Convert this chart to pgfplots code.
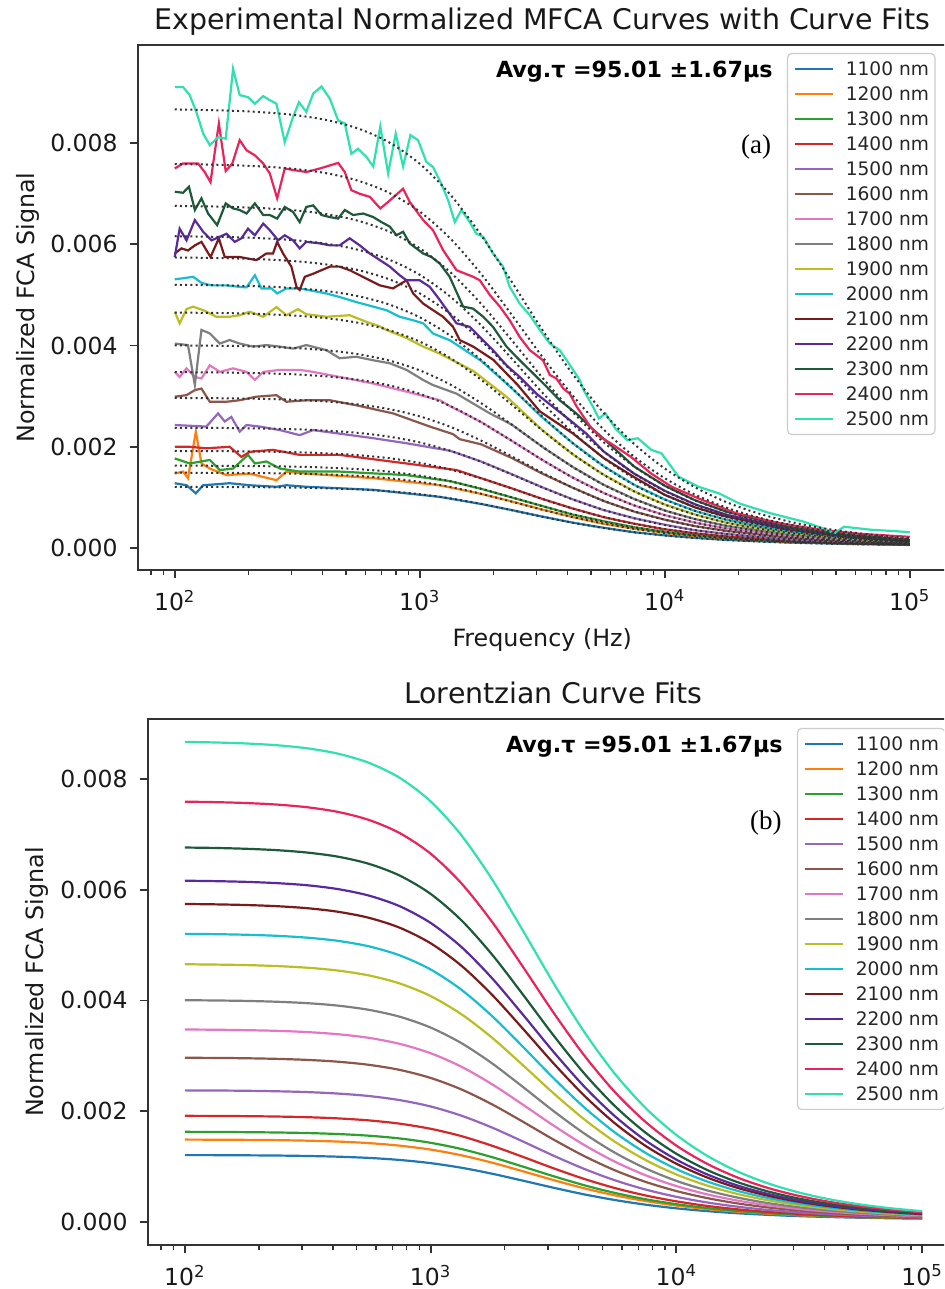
\documentclass[border=0pt]{standalone}
\usepackage{fontspec}
\setmainfont{DejaVu Sans}
\newfontfamily\timesfont{Liberation Serif}
\usepackage{pgfplots}
\usepackage{pgfplotstable}
\pgfplotsset{compat=1.18}

\definecolor{c1100}{HTML}{1F77B4}
\definecolor{c1200}{HTML}{FF7F0E}
\definecolor{c1300}{HTML}{2CA02C}
\definecolor{c1400}{HTML}{D62728}
\definecolor{c1500}{HTML}{9467BD}
\definecolor{c1600}{HTML}{8C564B}
\definecolor{c1700}{HTML}{E377C2}
\definecolor{c1800}{HTML}{7F7F7F}
\definecolor{c1900}{HTML}{BCBD22}
\definecolor{c2000}{HTML}{17BECF}
\definecolor{c2100}{HTML}{7A1A1A}
\definecolor{c2200}{HTML}{5A2A9C}
\definecolor{c2300}{HTML}{1D5A3A}
\definecolor{c2400}{HTML}{E8245A}
\definecolor{c2500}{HTML}{30E0B0}

% Lorentzian fit curves, x = log10(frequency / Hz)
\pgfplotstableread{
x     f1100    f1200    f1300    f1400    f1500    f1600    f1700    f1800    f1900    f2000    f2100    f2200    f2300    f2400    f2500
2.000 0.001208 0.001488 0.001628 0.001917 0.002376 0.002965 0.003475 0.004004 0.004653 0.005202 0.005741 0.006161 0.006760 0.007588 0.008667
2.125 0.001207 0.001486 0.001626 0.001915 0.002374 0.002962 0.003471 0.003999 0.004647 0.005196 0.005734 0.006153 0.006752 0.007579 0.008656
2.250 0.001204 0.001483 0.001622 0.001911 0.002369 0.002956 0.003463 0.003991 0.004638 0.005185 0.005722 0.006140 0.006737 0.007563 0.008638
2.375 0.001200 0.001478 0.001616 0.001904 0.002360 0.002945 0.003451 0.003976 0.004620 0.005166 0.005701 0.006117 0.006712 0.007535 0.008606
2.500 0.001192 0.001468 0.001606 0.001892 0.002345 0.002926 0.003428 0.003950 0.004590 0.005132 0.005664 0.006078 0.006668 0.007486 0.008550
2.625 0.001179 0.001452 0.001588 0.001870 0.002318 0.002893 0.003389 0.003905 0.004538 0.005074 0.005599 0.006008 0.006593 0.007401 0.008452
2.750 0.001157 0.001424 0.001558 0.001834 0.002274 0.002837 0.003324 0.003829 0.004450 0.004975 0.005490 0.005891 0.006464 0.007256 0.008287
2.875 0.001120 0.001378 0.001508 0.001775 0.002200 0.002745 0.003215 0.003705 0.004305 0.004812 0.005311 0.005699 0.006252 0.007019 0.008016
3.000 0.001063 0.001308 0.001430 0.001683 0.002086 0.002601 0.003047 0.003510 0.004079 0.004559 0.005032 0.005399 0.005923 0.006649 0.007593
3.125 0.000980 0.001205 0.001318 0.001551 0.001920 0.002394 0.002804 0.003230 0.003752 0.004194 0.004628 0.004966 0.005448 0.006115 0.006982
3.250 0.000872 0.001072 0.001171 0.001377 0.001705 0.002124 0.002487 0.002864 0.003327 0.003718 0.004102 0.004401 0.004828 0.005418 0.006186
3.375 0.000747 0.000917 0.001001 0.001177 0.001455 0.001812 0.002120 0.002440 0.002833 0.003166 0.003492 0.003746 0.004109 0.004611 0.005264
3.500 0.000619 0.000757 0.000827 0.000970 0.001198 0.001489 0.001742 0.002004 0.002325 0.002598 0.002865 0.003072 0.003369 0.003780 0.004314
3.625 0.000499 0.000609 0.000664 0.000778 0.000959 0.001190 0.001390 0.001599 0.001854 0.002070 0.002282 0.002446 0.002682 0.003008 0.003432
3.750 0.000397 0.000482 0.000525 0.000613 0.000753 0.000933 0.001089 0.001250 0.001448 0.001616 0.001781 0.001909 0.002092 0.002345 0.002674
3.875 0.000313 0.000378 0.000411 0.000479 0.000586 0.000724 0.000843 0.000967 0.001118 0.001247 0.001373 0.001471 0.001611 0.001805 0.002057
4.000 0.000247 0.000297 0.000322 0.000373 0.000455 0.000559 0.000649 0.000743 0.000858 0.000956 0.001052 0.001126 0.001232 0.001379 0.001571
4.125 0.000197 0.000234 0.000253 0.000291 0.000353 0.000432 0.000500 0.000571 0.000658 0.000732 0.000804 0.000860 0.000940 0.001051 0.001196
4.250 0.000158 0.000186 0.000200 0.000229 0.000276 0.000335 0.000386 0.000440 0.000505 0.000561 0.000615 0.000657 0.000718 0.000801 0.000910
4.375 0.000129 0.000150 0.000160 0.000182 0.000217 0.000262 0.000300 0.000340 0.000390 0.000431 0.000472 0.000504 0.000549 0.000612 0.000694
4.500 0.000106 0.000122 0.000130 0.000147 0.000173 0.000207 0.000235 0.000266 0.000303 0.000334 0.000365 0.000388 0.000422 0.000470 0.000531
4.625 0.000090 0.000102 0.000108 0.000120 0.000140 0.000165 0.000187 0.000209 0.000237 0.000260 0.000284 0.000301 0.000327 0.000362 0.000408
4.750 0.000077 0.000086 0.000091 0.000100 0.000115 0.000134 0.000150 0.000167 0.000188 0.000205 0.000223 0.000236 0.000255 0.000282 0.000316
4.875 0.000068 0.000075 0.000078 0.000085 0.000096 0.000110 0.000123 0.000135 0.000151 0.000164 0.000177 0.000187 0.000202 0.000221 0.000247
5.000 0.000061 0.000066 0.000069 0.000074 0.000082 0.000093 0.000102 0.000111 0.000123 0.000133 0.000143 0.000150 0.000161 0.000176 0.000196
}\fits

\pgfplotsset{
  mfca/.style={
    scale only axis,
    xmin=1.85, xmax=5.15,
    scaled y ticks=false,
    axis line style={black!80, line width=0.9pt},
    tick align=outside,
    xtick pos=bottom, ytick pos=left,
    xtick={2,3,4,5},
    xticklabels={10\textsuperscript{2},10\textsuperscript{3},10\textsuperscript{4},10\textsuperscript{5}},
    minor xtick={1.903,1.954,2.301,2.477,2.602,2.699,2.778,2.845,2.903,2.954,3.301,3.477,3.602,3.699,3.778,3.845,3.903,3.954,4.301,4.477,4.602,4.699,4.778,4.845,4.903,4.954},
    ytick={0,0.002,0.004,0.006,0.008},
    yticklabels={0.000,0.002,0.004,0.006,0.008},
    major tick length=4.1pt, minor tick length=2.35pt,
    every tick/.style={black!80, line width=0.9pt},
    minor tick style={line width=0.7pt},
    tick label style={font=\fontsize{11.75}{14}\selectfont, text=black!90},
    label style={font=\fontsize{11.9}{14}\selectfont, text=black!90},
    title style={font=\fontsize{14.2}{17}\selectfont, anchor=center, text=black!90},
    xlabel style={anchor=center},
    ylabel style={anchor=center},
    yticklabel style={anchor=east, inner sep=0pt, xshift=-5.9pt},
    xticklabel style={anchor=north, inner sep=0pt, yshift=-5.6pt},
    legend cell align=left,
    legend image code/.code={\draw[#1, line width=1.1pt, solid] (0pt,0pt) -- (19pt,0pt);},
    legend style={anchor=north west, draw=black!20, line width=0.6pt, rounded corners=2pt, fill=white,
      font=\fontsize{9.3}{11}\selectfont, inner xsep=3pt, inner ysep=2.8pt, row sep=2.68pt, column sep=6pt,
      nodes={inner sep=0pt, text height=8.3pt, text depth=1.52pt, text=black!85}},
    every axis plot/.append style={line width=1.1pt},
  },
  fit/.style={black!80, line width=1pt, dash pattern=on 1pt off 1.6pt, smooth, forget plot},
}

\begin{document}
\begin{tikzpicture}
\useasboundingbox (0,0) rectangle (472pt,-644.5pt);
\clip (0,0) rectangle (472pt,-644.5pt);

% ---------------- (a) experimental ----------------
\begin{axis}[mfca, at={(69pt,-285pt)}, anchor=south west, width=404.25pt, height=262.5pt,
  ymin=-0.000435, ymax=0.00994,
  title={Experimental Normalized MFCA Curves with Curve Fits},
  title style={at={(axis description cs:0.5,1.021)}, anchor=center},
  xlabel={Frequency (Hz)}, xlabel style={at={(axis description cs:0.5,-0.1333)}},
  ylabel={Normalized FCA Signal}, ylabel style={at={(axis description cs:-0.136,0.5)}},
  legend style={at={(axis description cs:0.8027,0.9848)}}]

\addplot[c1100] coordinates {(2.000,0.00128)(2.048,0.00124)(2.086,0.00108)(2.116,0.00124)(2.224,0.00128)(2.306,0.00124)(2.415,0.00121)(2.456,0.00124)(2.537,0.00121)(2.810,0.00115)(3.082,0.00101)(3.25,0.00087)(3.375,0.00075)(3.5,0.00062)(3.625,0.00050)(3.75,0.00040)(3.875,0.00031)(4.0,0.00025)(4.125,0.00020)(4.25,0.00016)(4.5,0.00011)(4.75,0.00008)(5.0,0.00006)};
\addlegendentry{1100 nm\hspace{2.5pt}}
\addplot[c1200] coordinates {(2.000,0.00147)(2.034,0.00151)(2.054,0.00138)(2.086,0.00230)(2.109,0.00167)(2.143,0.00157)(2.211,0.00144)(2.306,0.00147)(2.415,0.00134)(2.456,0.00151)(2.537,0.00147)(2.810,0.00138)(3.082,0.00124)(3.25,0.00107)(3.375,0.00092)(3.5,0.00076)(3.625,0.00061)(3.75,0.00048)(3.875,0.00038)(4.0,0.00030)(4.125,0.00023)(4.25,0.00019)(4.5,0.00012)(4.75,0.00009)(5.0,0.00007)};
\addlegendentry{1200 nm}
\addplot[c1300] coordinates {(2.000,0.00177)(2.061,0.00167)(2.143,0.00174)(2.184,0.00154)(2.238,0.00157)(2.299,0.00184)(2.327,0.00167)(2.374,0.00171)(2.429,0.00157)(2.510,0.00151)(2.673,0.00151)(2.946,0.00144)(3.125,0.00132)(3.25,0.00117)(3.375,0.00100)(3.5,0.00083)(3.625,0.00066)(3.75,0.00053)(3.875,0.00041)(4.0,0.00032)(4.125,0.00025)(4.25,0.00020)(4.5,0.00013)(4.75,0.00009)(5.0,0.00007)};
\addlegendentry{1300 nm}
\addplot[c1400] coordinates {(2.000,0.00200)(2.061,0.00200)(2.129,0.00197)(2.224,0.00200)(2.272,0.00180)(2.306,0.00190)(2.401,0.00194)(2.510,0.00184)(2.673,0.00184)(2.946,0.00167)(3.150,0.00154)(3.25,0.00138)(3.375,0.00118)(3.5,0.00097)(3.625,0.00078)(3.75,0.00061)(3.875,0.00048)(4.0,0.00037)(4.125,0.00029)(4.25,0.00023)(4.5,0.00015)(4.75,0.00010)(5.0,0.00007)};
\addlegendentry{1400 nm}
\addplot[c1500] coordinates {(2.000,0.00243)(2.129,0.00240)(2.177,0.00266)(2.204,0.00250)(2.231,0.00259)(2.265,0.00230)(2.293,0.00243)(2.347,0.00240)(2.429,0.00233)(2.510,0.00223)(2.565,0.00233)(2.673,0.00226)(2.810,0.00217)(2.946,0.00207)(3.125,0.00192)(3.25,0.00171)(3.375,0.00146)(3.5,0.00120)(3.625,0.00096)(3.75,0.00075)(3.875,0.00059)(4.0,0.00046)(4.125,0.00035)(4.25,0.00028)(4.5,0.00017)(4.75,0.00012)(5.0,0.00008)};
\addlegendentry{1500 nm}
\addplot[c1600] coordinates {(2.000,0.00299)(2.048,0.00302)(2.082,0.00312)(2.109,0.00315)(2.143,0.00289)(2.211,0.00289)(2.265,0.00292)(2.333,0.00299)(2.415,0.00302)(2.456,0.00289)(2.537,0.00292)(2.633,0.00292)(2.741,0.00282)(2.891,0.00266)(3.041,0.00240)(3.136,0.00225)(3.163,0.00215)(3.25,0.00205)(3.375,0.00178)(3.5,0.00147)(3.625,0.00119)(3.75,0.00093)(3.875,0.00072)(4.0,0.00056)(4.125,0.00043)(4.25,0.00034)(4.5,0.00021)(4.75,0.00013)(5.0,0.00009)};
\addlegendentry{1600 nm}
\addplot[c1700] coordinates {(2.000,0.00348)(2.020,0.00338)(2.048,0.00355)(2.082,0.00338)(2.109,0.00335)(2.143,0.00361)(2.184,0.00348)(2.238,0.00355)(2.293,0.00348)(2.327,0.00332)(2.361,0.00348)(2.429,0.00352)(2.510,0.00352)(2.565,0.00348)(2.673,0.00338)(2.810,0.00325)(2.946,0.00309)(3.082,0.00292)(3.125,0.00280)(3.25,0.00249)(3.375,0.00212)(3.5,0.00174)(3.625,0.00139)(3.75,0.00109)(3.875,0.00084)(4.0,0.00065)(4.125,0.00050)(4.25,0.00039)(4.5,0.00024)(4.75,0.00015)(5.0,0.00010)};
\addlegendentry{1700 nm}
\addplot[c1800] coordinates {(2.000,0.00404)(2.054,0.00401)(2.082,0.00322)(2.109,0.00431)(2.143,0.00424)(2.184,0.00404)(2.224,0.00411)(2.265,0.00404)(2.320,0.00398)(2.374,0.00401)(2.429,0.00398)(2.483,0.00394)(2.537,0.00401)(2.619,0.00391)(2.673,0.00375)(2.741,0.00378)(2.810,0.00371)(2.878,0.00365)(2.946,0.00352)(3.014,0.00332)(3.054,0.00322)(3.150,0.00305)(3.286,0.00266)(3.375,0.00244)(3.5,0.00200)(3.625,0.00160)(3.75,0.00125)(3.875,0.00097)(4.0,0.00074)(4.125,0.00057)(4.25,0.00044)(4.5,0.00027)(4.75,0.00017)(5.0,0.00011)};
\addlegendentry{1800 nm}
\addplot[c1900] coordinates {(2.000,0.00467)(2.020,0.00444)(2.048,0.00472)(2.075,0.00477)(2.116,0.00470)(2.170,0.00457)(2.224,0.00457)(2.265,0.00460)(2.306,0.00467)(2.361,0.00457)(2.415,0.00476)(2.456,0.00460)(2.503,0.00472)(2.537,0.00462)(2.619,0.00457)(2.714,0.00460)(2.782,0.00447)(2.837,0.00438)(2.864,0.00431)(2.946,0.00415)(3.014,0.00398)(3.082,0.00384)(3.218,0.00350)(3.354,0.00299)(3.5,0.00233)(3.625,0.00185)(3.75,0.00145)(3.875,0.00112)(4.0,0.00086)(4.125,0.00066)(4.25,0.00050)(4.5,0.00030)(4.75,0.00019)(5.0,0.00012)};
\addlegendentry{1900 nm}
\addplot[c2000] coordinates {(2.000,0.00531)(2.034,0.00533)(2.075,0.00536)(2.109,0.00524)(2.150,0.00519)(2.211,0.00519)(2.265,0.00516)(2.293,0.00515)(2.327,0.00539)(2.354,0.00513)(2.395,0.00513)(2.418,0.00503)(2.456,0.00513)(2.510,0.00513)(2.565,0.00508)(2.619,0.00503)(2.673,0.00496)(2.741,0.00486)(2.810,0.00477)(2.864,0.00470)(2.918,0.00457)(2.973,0.00450)(3.014,0.00444)(3.054,0.00424)(3.125,0.00410)(3.25,0.00370)(3.375,0.00316)(3.5,0.00258)(3.625,0.00207)(3.75,0.00162)(3.875,0.00125)(4.0,0.00096)(4.125,0.00073)(4.25,0.00056)(4.5,0.00033)(4.75,0.00021)(5.0,0.00013)};
\addlegendentry{2000 nm}
\addplot[c2100] coordinates {(2.000,0.00582)(2.027,0.00592)(2.054,0.00588)(2.082,0.00598)(2.109,0.00605)(2.146,0.00575)(2.180,0.00612)(2.204,0.00575)(2.265,0.00575)(2.333,0.00569)(2.374,0.00582)(2.401,0.00582)(2.418,0.00605)(2.442,0.00582)(2.476,0.00556)(2.497,0.00516)(2.510,0.00510)(2.531,0.00536)(2.565,0.00542)(2.599,0.00549)(2.633,0.00556)(2.673,0.00556)(2.714,0.00549)(2.755,0.00539)(2.796,0.00529)(2.837,0.00519)(2.891,0.00513)(2.925,0.00523)(2.946,0.00529)(2.973,0.00503)(3.014,0.00483)(3.054,0.00470)(3.095,0.00457)(3.136,0.00437)(3.163,0.00411)(3.218,0.00398)(3.30,0.00372)(3.40,0.00322)(3.490,0.00270)(3.626,0.00226)(3.75,0.00178)(3.875,0.00140)(4.0,0.00105)(4.125,0.00080)(4.25,0.00062)(4.5,0.00037)(4.75,0.00022)(5.0,0.00014)};
\addlegendentry{2100 nm}
\addplot[c2200] coordinates {(2.000,0.00575)(2.020,0.00631)(2.048,0.00608)(2.082,0.00648)(2.116,0.00625)(2.150,0.00608)(2.184,0.00615)(2.211,0.00621)(2.245,0.00605)(2.272,0.00612)(2.299,0.00631)(2.327,0.00618)(2.361,0.00641)(2.388,0.00628)(2.422,0.00608)(2.449,0.00618)(2.483,0.00608)(2.510,0.00592)(2.537,0.00605)(2.592,0.00602)(2.633,0.00598)(2.673,0.00598)(2.714,0.00612)(2.755,0.00598)(2.796,0.00582)(2.837,0.00569)(2.878,0.00556)(2.918,0.00539)(2.946,0.00529)(3.000,0.00529)(3.041,0.00516)(3.082,0.00490)(3.122,0.00463)(3.150,0.00444)(3.204,0.00437)(3.245,0.00417)(3.299,0.00391)(3.354,0.00361)(3.408,0.00338)(3.476,0.00305)(3.544,0.00279)(3.612,0.00253)(3.680,0.00226)(3.75,0.00191)(3.875,0.00147)(4.0,0.00113)(4.125,0.00086)(4.25,0.00066)(4.5,0.00039)(4.75,0.00024)(5.0,0.00015)};
\addlegendentry{2200 nm}
\addplot[c2300] coordinates {(2.000,0.00704)(2.034,0.00702)(2.058,0.00714)(2.082,0.00668)(2.109,0.00691)(2.136,0.00661)(2.173,0.00638)(2.208,0.00681)(2.238,0.00671)(2.265,0.00668)(2.293,0.00661)(2.327,0.00681)(2.361,0.00658)(2.388,0.00658)(2.418,0.00651)(2.449,0.00674)(2.483,0.00664)(2.510,0.00644)(2.537,0.00674)(2.565,0.00677)(2.599,0.00658)(2.633,0.00654)(2.667,0.00651)(2.694,0.00668)(2.728,0.00658)(2.769,0.00661)(2.810,0.00654)(2.844,0.00644)(2.878,0.00635)(2.905,0.00618)(2.932,0.00625)(2.959,0.00602)(2.986,0.00592)(3.014,0.00582)(3.048,0.00575)(3.082,0.00562)(3.122,0.00536)(3.177,0.00477)(3.218,0.00473)(3.259,0.00457)(3.299,0.00437)(3.354,0.00398)(3.408,0.00371)(3.463,0.00345)(3.517,0.00319)(3.571,0.00292)(3.639,0.00266)(3.694,0.00240)(3.748,0.00217)(3.875,0.00161)(4.0,0.00123)(4.125,0.00094)(4.25,0.00072)(4.5,0.00042)(4.75,0.00026)(5.0,0.00016)};
\addlegendentry{2300 nm}
\addplot[c2400] coordinates {(2.000,0.00750)(2.034,0.00760)(2.095,0.00760)(2.122,0.00743)(2.146,0.00723)(2.180,0.00839)(2.208,0.00745)(2.235,0.00760)(2.265,0.00806)(2.293,0.00786)(2.327,0.00776)(2.361,0.00760)(2.388,0.00740)(2.418,0.00691)(2.449,0.00750)(2.483,0.00747)(2.537,0.00743)(2.592,0.00750)(2.633,0.00756)(2.667,0.00761)(2.694,0.00743)(2.721,0.00707)(2.755,0.00700)(2.796,0.00694)(2.839,0.00671)(2.871,0.00684)(2.932,0.00710)(2.959,0.00684)(3.014,0.00648)(3.054,0.00628)(3.095,0.00589)(3.150,0.00549)(3.218,0.00536)(3.245,0.00529)(3.286,0.00500)(3.327,0.00477)(3.367,0.00450)(3.408,0.00417)(3.449,0.00391)(3.503,0.00371)(3.531,0.00342)(3.558,0.00335)(3.586,0.00315)(3.612,0.00305)(3.641,0.00279)(3.696,0.00240)(3.735,0.00220)(3.779,0.00207)(3.862,0.00180)(3.945,0.00147)(4.028,0.00121)(4.152,0.00095)(4.290,0.00069)(4.469,0.00049)(4.635,0.00036)(4.800,0.00028)(5.000,0.00022)};
\addlegendentry{2400 nm}
\addplot[c2500] coordinates {(2.000,0.00911)(2.034,0.00911)(2.061,0.00895)(2.088,0.00862)(2.116,0.00819)(2.143,0.00796)(2.177,0.00812)(2.208,0.00809)(2.238,0.00947)(2.265,0.00895)(2.299,0.00891)(2.327,0.00878)(2.361,0.00893)(2.388,0.00885)(2.415,0.00878)(2.449,0.00802)(2.483,0.00852)(2.507,0.00881)(2.537,0.00862)(2.565,0.00898)(2.599,0.00912)(2.633,0.00888)(2.667,0.00845)(2.694,0.00839)(2.721,0.00779)(2.748,0.00789)(2.782,0.00773)(2.810,0.00754)(2.839,0.00833)(2.871,0.00740)(2.902,0.00819)(2.932,0.00754)(2.962,0.00816)(2.993,0.00806)(3.027,0.00763)(3.054,0.00753)(3.088,0.00720)(3.116,0.00687)(3.143,0.00644)(3.170,0.00668)(3.204,0.00644)(3.231,0.00621)(3.259,0.00615)(3.299,0.00582)(3.340,0.00556)(3.367,0.00516)(3.408,0.00483)(3.449,0.00460)(3.490,0.00431)(3.531,0.00404)(3.571,0.00391)(3.600,0.00371)(3.653,0.00332)(3.669,0.00312)(3.707,0.00279)(3.731,0.00256)(3.758,0.00266)(3.800,0.00235)(3.848,0.00213)(3.890,0.00217)(3.945,0.00194)(3.987,0.00187)(4.056,0.00141)(4.138,0.00121)(4.221,0.00108)(4.304,0.00088)(4.429,0.00069)(4.567,0.00052)(4.663,0.00036)(4.691,0.00029)(4.732,0.00042)(4.843,0.00036)(4.950,0.00033)(5.000,0.00031)};
\addlegendentry{2500 nm}

\addplot[fit] table[x=x,y=f1100] {\fits};
\addplot[fit] table[x=x,y=f1200] {\fits};
\addplot[fit] table[x=x,y=f1300] {\fits};
\addplot[fit] table[x=x,y=f1400] {\fits};
\addplot[fit] table[x=x,y=f1500] {\fits};
\addplot[fit] table[x=x,y=f1600] {\fits};
\addplot[fit] table[x=x,y=f1700] {\fits};
\addplot[fit] table[x=x,y=f1800] {\fits};
\addplot[fit] table[x=x,y=f1900] {\fits};
\addplot[fit] table[x=x,y=f2000] {\fits};
\addplot[fit] table[x=x,y=f2100] {\fits};
\addplot[fit] table[x=x,y=f2200] {\fits};
\addplot[fit] table[x=x,y=f2300] {\fits};
\addplot[fit] table[x=x,y=f2400] {\fits};
\addplot[fit] table[x=x,y=f2500] {\fits};

\node[anchor=east, inner sep=0pt, font=\bfseries\fontsize{11.1}{13}\selectfont] at (axis description cs:0.7854,0.9486) {Avg.τ =95.01 ±1.67µs};
\node[anchor=center, inner sep=0pt, font=\timesfont\fontsize{13.5}{16}\selectfont] at (axis description cs:0.7644,0.8057) {(a)};
\end{axis}

% ---------------- (b) Lorentzian fits ----------------
\begin{axis}[mfca, at={(74pt,-622.5pt)}, anchor=south west, width=405.5pt, height=263pt,
  ymin=-0.000415, ymax=0.00908,
  title={Lorentzian Curve Fits},
  title style={at={(axis description cs:0.5,1.0266)}, anchor=center},
  ylabel={Normalized FCA Signal}, ylabel style={at={(axis description cs:-0.137,0.5)}},
  legend style={at={(axis description cs:0.8002,0.983)}}]
\addplot[c1100, smooth] table[x=x,y=f1100] {\fits}; \addlegendentry{1100 nm\hspace{2.5pt}}
\addplot[c1200, smooth] table[x=x,y=f1200] {\fits}; \addlegendentry{1200 nm}
\addplot[c1300, smooth] table[x=x,y=f1300] {\fits}; \addlegendentry{1300 nm}
\addplot[c1400, smooth] table[x=x,y=f1400] {\fits}; \addlegendentry{1400 nm}
\addplot[c1500, smooth] table[x=x,y=f1500] {\fits}; \addlegendentry{1500 nm}
\addplot[c1600, smooth] table[x=x,y=f1600] {\fits}; \addlegendentry{1600 nm}
\addplot[c1700, smooth] table[x=x,y=f1700] {\fits}; \addlegendentry{1700 nm}
\addplot[c1800, smooth] table[x=x,y=f1800] {\fits}; \addlegendentry{1800 nm}
\addplot[c1900, smooth] table[x=x,y=f1900] {\fits}; \addlegendentry{1900 nm}
\addplot[c2000, smooth] table[x=x,y=f2000] {\fits}; \addlegendentry{2000 nm}
\addplot[c2100, smooth] table[x=x,y=f2100] {\fits}; \addlegendentry{2100 nm}
\addplot[c2200, smooth] table[x=x,y=f2200] {\fits}; \addlegendentry{2200 nm}
\addplot[c2300, smooth] table[x=x,y=f2300] {\fits}; \addlegendentry{2300 nm}
\addplot[c2400, smooth] table[x=x,y=f2400] {\fits}; \addlegendentry{2400 nm}
\addplot[c2500, smooth] table[x=x,y=f2500] {\fits}; \addlegendentry{2500 nm}

\node[anchor=east, inner sep=0pt, font=\bfseries\fontsize{11.1}{13}\selectfont] at (axis description cs:0.783,0.9468) {Avg.τ =95.01 ±1.67µs};
\node[anchor=center, inner sep=0pt, font=\timesfont\fontsize{13.5}{16}\selectfont] at (axis description cs:0.762,0.8023) {(b)};
\end{axis}
\end{tikzpicture}
\end{document}
